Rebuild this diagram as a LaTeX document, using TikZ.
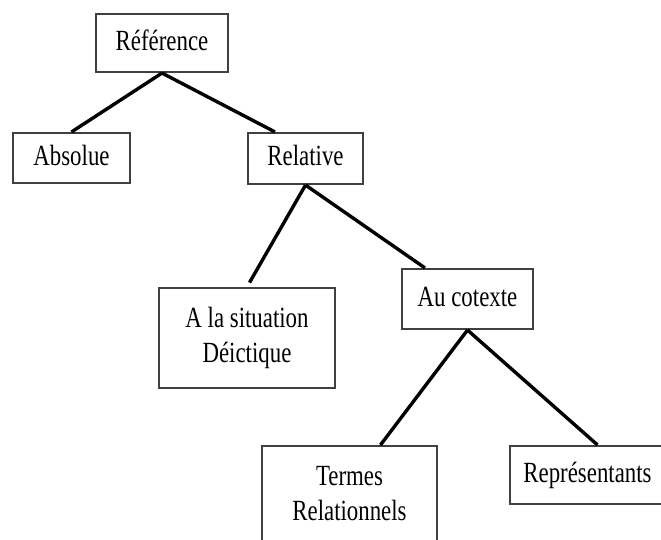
\documentclass[tikz,border=0pt]{standalone}
\usepackage{fontspec}
\setmainfont{Liberation Serif}
\usepackage{graphicx}

\newcommand{\boxtext}[1]{\scalebox{0.78}[1]{\begin{tabular}{@{}c@{}}#1\end{tabular}}}

\begin{document}
\begin{tikzpicture}[x=0.03cm, y=-0.03cm,
  box/.style={draw=black!75, line width=1.8pt, inner sep=0pt, fill=white, font=\fontsize{25}{30}\selectfont},
  branch/.style={black, line width=2.9pt}]

\clip (0,0) rectangle (661,540);
\fill[white] (0,0) rectangle (661,540);

% the boxes
\node (ref) at (162,43) [box, minimum width=3.96cm, minimum height=1.74cm] {\boxtext{Référence}};
\node (abs) at (71.5,158) [box, minimum width=3.51cm, minimum height=1.5cm] {\boxtext{Absolue}};
\node (rel) at (305.5,158.5) [box, minimum width=3.45cm, minimum height=1.53cm] {\boxtext{Relative}};
\node (deic) at (247,338) [box, minimum width=5.28cm, minimum height=3cm] {\boxtext{A la situation\\Déictique}};
\node (cot) at (467.5,299) [box, minimum width=3.93cm, minimum height=1.8cm] {\boxtext{Au cotexte}};
\node (term) at (349.5,496) [box, minimum width=5.25cm, minimum height=3cm] {\boxtext{Termes\\Relationnels}};
\node (rep) at (587.5,475) [box, minimum width=4.65cm, minimum height=1.74cm] {\boxtext{Représentants}};

% the branches
\draw[branch] (ref.south) -- (abs.north);
\draw[branch] (ref.south) -- ([xshift=0.84cm]rel.north west);
\draw[branch, shorten >=0.15cm] (rel.south) -- (deic.north);
\draw[branch] (rel.south) -- ([xshift=0.72cm]cot.north west);
\draw[branch] (cot.south) -- ([xshift=0.93cm]term.north);
\draw[branch] (cot.south) -- ([xshift=0.3cm]rep.north);

\end{tikzpicture}
\end{document}
